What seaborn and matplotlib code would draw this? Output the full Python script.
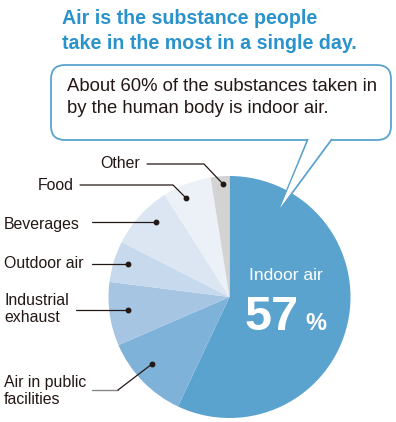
import matplotlib
matplotlib.use("Agg")
import matplotlib.pyplot as plt
import seaborn as sns
from matplotlib.patches import FancyBboxPatch, Polygon

categories = ["Indoor air", "Air in public\nfacilities", "Industrial\nexhaust", "Outdoor air",
              "Beverages", "Food", "Other"]
values = [57, 11.5, 8.5, 5.5, 8.5, 6.5, 2.5]
colors = ["#5ba3cf", "#7fb2d9", "#a5c5e2", "#c7daed", "#dbe6f2", "#ecf1f7", "#d3d3d3"]

sns.set_theme(style="white")
plt.rcParams['font.family'] = ['Liberation Sans', 'DejaVu Sans']

W, H = 396, 422
fig = plt.figure(figsize=(W / 100, H / 100), dpi=100)
ax = fig.add_axes([0, 0, 1, 1])

def Y(y):
    return H - y

cx, cy, r = 229.5, Y(297), 121
pal = sns.color_palette(colors)
ax.pie(values, colors=pal, startangle=90, counterclock=False, center=(cx, cy), radius=r,
       wedgeprops=dict(linewidth=0))
ax.set_xlim(0, W)
ax.set_ylim(0, H)
ax.set_aspect('equal')
ax.axis('off')

blue_t = "#2b93cc"
ax.text(62, Y(9), "Air is the substance people\ntake in the most in a single day.",
        color=blue_t, fontsize=14.1, fontweight='bold', va='top', ha='left', linespacing=1.42)

# speech bubble
bub = FancyBboxPatch((51, Y(140)), 340, 75, boxstyle="round,pad=0,rounding_size=14",
                     facecolor='white', edgecolor="#5ba3cf", linewidth=1.3, zorder=5)
ax.add_patch(bub)
tail = Polygon([(308, Y(139)), (278, Y(212)), (332, Y(139))], closed=False,
               facecolor='white', edgecolor="#5ba3cf", linewidth=1.3, zorder=6)
ax.add_patch(tail)
ax.add_patch(Polygon([(309.5, Y(138)), (280, Y(208)), (330.5, Y(138))], closed=True,
                     facecolor='white', edgecolor='none', zorder=7))
ax.text(67, Y(78), "About 60% of the substances taken in\nby the human body is indoor air.",
        color="#231815", fontsize=13.35, va='top', ha='left', linespacing=1.42, zorder=8)

# inside labels
ax.text(286, Y(276), "Indoor air", color='white', fontsize=12.5, ha='center', va='center')
ax.text(272, Y(317), "57", color='white', fontsize=35, fontweight='bold', ha='center', va='center')
ax.text(316, Y(324), "%", color='white', fontsize=17, fontweight='bold', ha='center', va='center')

# leader lines & labels
lc = "#231815"
def leader(pts, label, tx, ty, lcol=lc, dot=True):
    xs = [p[0] for p in pts]
    ys = [Y(p[1]) for p in pts]
    ax.plot(xs, ys, color=lcol, linewidth=0.9, zorder=9)
    if dot:
        ax.plot([pts[-1][0]], [Y(pts[-1][1])], 'o', color=lc, markersize=3.2, zorder=10)
    ax.text(tx, Y(ty), label, fontsize=11.4, color=lc, ha='left', va='center',
            linespacing=1.15, zorder=10)

leader([(147, 164), (204, 164), (223, 184)], categories[6], 100, 163)
leader([(80, 185), (173, 185), (186, 198)], categories[5], 38, 185)
leader([(92, 222), (156, 222)], categories[4], 4, 224)
leader([(92, 264), (128, 264)], categories[3], 4, 264)
leader([(76, 310), (128, 310)], categories[2], 4, 309)
ax.plot([92, 118], [Y(390), Y(390)], color="#888888", linewidth=1.0, zorder=9)
ax.plot([118, 152], [Y(390), Y(364)], color=lc, linewidth=0.9, zorder=9)
ax.plot([152], [Y(364)], 'o', color=lc, markersize=3.2, zorder=10)
ax.text(4, Y(391), categories[1], fontsize=11.4, color=lc, ha='left', va='center',
        linespacing=1.15, zorder=10)

fig.savefig("out.png", dpi=100)
